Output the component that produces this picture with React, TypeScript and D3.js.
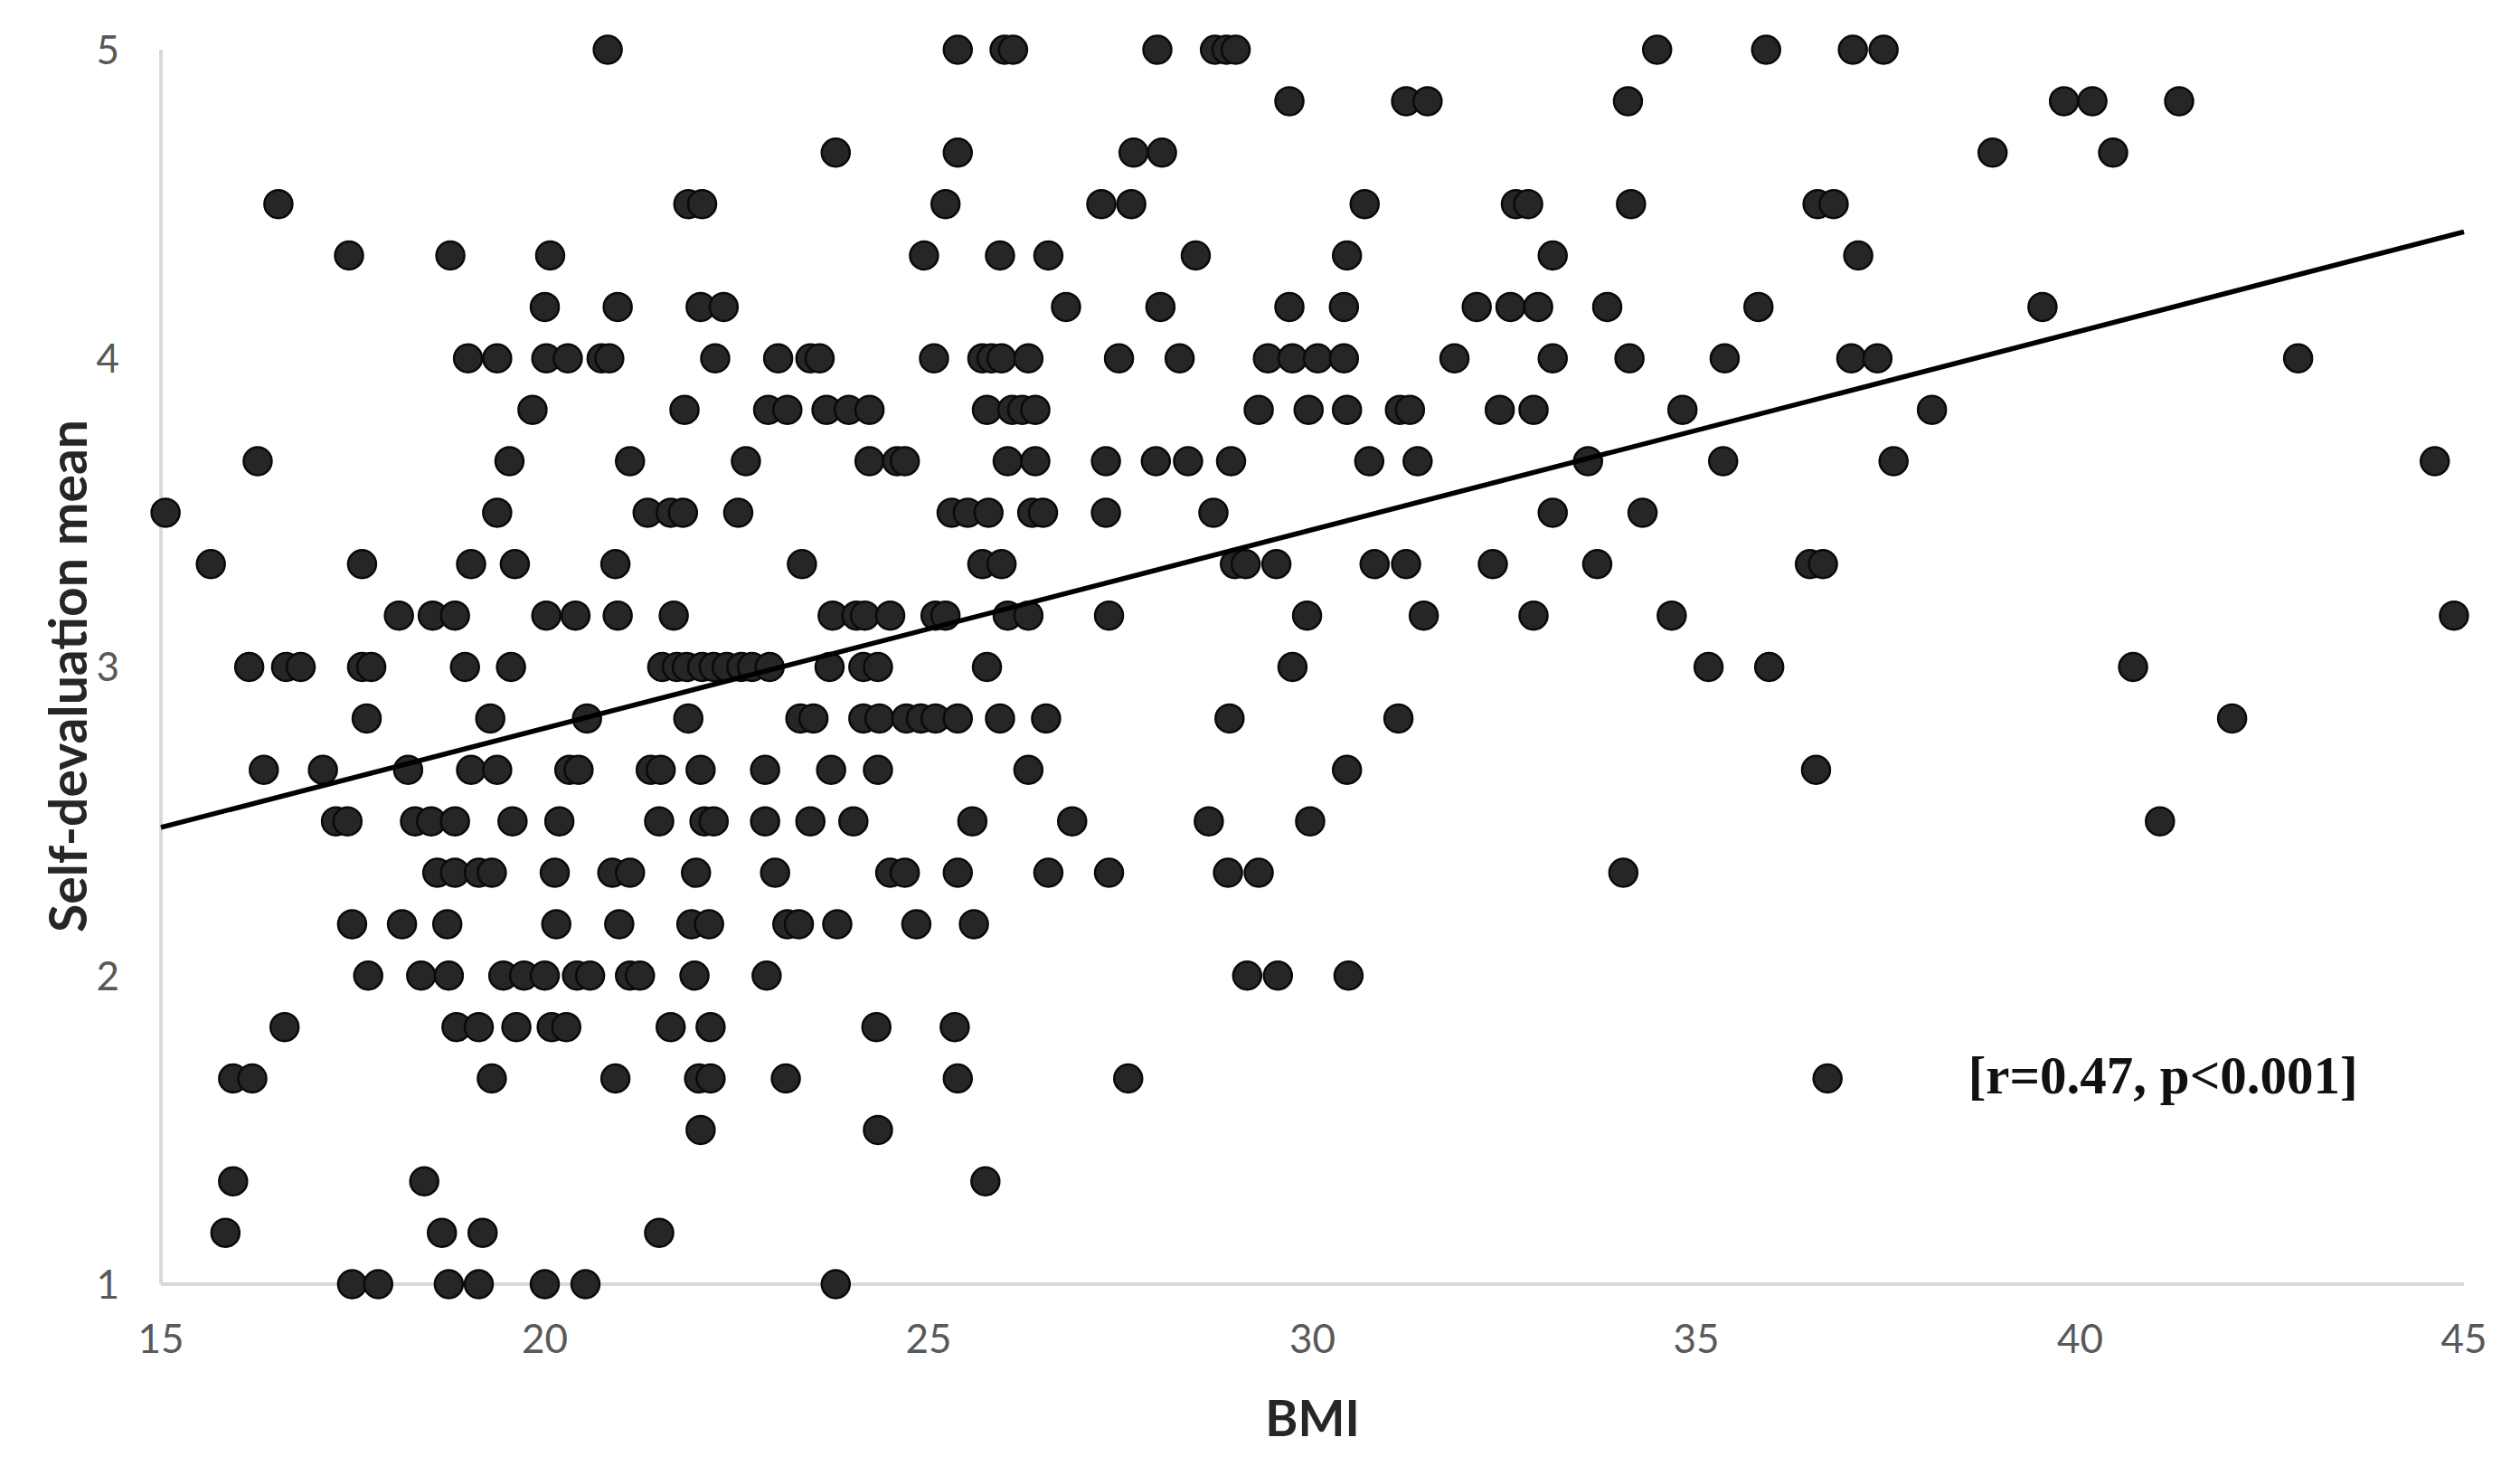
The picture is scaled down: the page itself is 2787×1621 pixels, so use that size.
import React, { useRef, useEffect } from "react";
import * as d3 from "d3";

// BMI of every respondent, grouped by self-devaluation mean (mean of 6 items -> steps of 1/6)
const bmiAt5_00 = [20.82, 25.38, 25.99, 26.1, 27.98, 28.73, 28.88, 29.0, 34.49, 35.91, 37.04, 37.44];
const bmiAt4_83 = [29.7, 31.22, 31.5, 34.11, 39.79, 40.16, 41.29];
const bmiAt4_67 = [23.79, 25.38, 27.67, 28.04, 38.86, 40.43];
const bmiAt4_50 = [16.53, 21.87, 22.05, 25.22, 27.25, 27.64, 30.68, 32.65, 32.81, 34.15, 36.58, 36.79];
const bmiAt4_33 = [17.45, 18.77, 20.07, 24.94, 25.93, 26.56, 28.48, 30.45, 33.13, 37.11];
const bmiAt4_17 = [20.0, 20.95, 22.03, 22.33, 26.79, 28.02, 29.7, 30.41, 32.14, 32.58, 32.94, 33.84, 35.81, 39.51];
const bmiAt4_00 = [19.0, 19.38, 20.02, 20.3, 20.74, 20.84, 22.22, 23.04, 23.46, 23.58, 25.07, 25.7, 25.82, 25.95, 26.3, 27.48, 28.27, 29.42, 29.74, 30.07, 30.41, 31.85, 33.13, 34.13, 35.37, 37.02, 37.36, 42.84];
const bmiAt3_83 = [19.84, 21.82, 22.91, 23.16, 23.67, 23.96, 24.23, 25.76, 26.09, 26.22, 26.39, 29.3, 29.95, 30.45, 31.14, 31.27, 32.44, 32.88, 34.82, 38.07];
const bmiAt3_67 = [16.26, 19.54, 21.11, 22.62, 24.23, 24.59, 24.69, 26.03, 26.39, 27.31, 27.96, 28.38, 28.94, 30.74, 31.37, 33.59, 35.35, 37.57, 44.62];
const bmiAt3_50 = [15.06, 19.38, 21.34, 21.64, 21.8, 22.52, 25.3, 25.51, 25.78, 26.35, 26.49, 27.31, 28.71, 33.13, 34.3];
const bmiAt3_33 = [15.65, 17.62, 19.04, 19.61, 20.92, 23.35, 25.7, 25.95, 28.99, 29.13, 29.53, 30.81, 31.22, 32.35, 33.71, 36.48, 36.65];
const bmiAt3_17 = [18.1, 18.54, 18.83, 20.02, 20.4, 20.95, 21.68, 23.75, 24.06, 24.17, 24.5, 25.09, 25.22, 26.03, 26.3, 27.35, 29.93, 31.45, 32.88, 34.68, 44.87];
const bmiAt3_00 = [16.15, 16.63, 16.82, 17.62, 17.74, 18.96, 19.56, 21.53, 21.72, 21.85, 22.05, 22.2, 22.37, 22.56, 22.7, 22.93, 23.71, 24.15, 24.34, 25.76, 29.74, 35.16, 35.95, 40.69];
const bmiAt2_83 = [17.68, 19.29, 20.55, 21.87, 23.33, 23.5, 24.15, 24.36, 24.71, 24.9, 25.09, 25.38, 25.93, 26.53, 28.92, 31.12, 41.98];
const bmiAt2_67 = [16.34, 17.11, 18.22, 19.04, 19.38, 20.32, 20.44, 21.38, 21.51, 22.03, 22.87, 23.73, 24.34, 26.3, 30.45, 36.56];
const bmiAt2_50 = [17.28, 17.43, 18.31, 18.52, 18.83, 19.58, 20.19, 21.49, 22.08, 22.2, 22.87, 23.46, 24.02, 25.57, 26.87, 28.65, 29.97, 41.04];
const bmiAt2_33 = [18.6, 18.83, 19.14, 19.31, 20.13, 20.88, 21.11, 21.97, 23.0, 24.5, 24.69, 25.38, 26.56, 27.35, 28.9, 29.3, 34.05];
const bmiAt2_17 = [17.49, 18.14, 18.73, 20.15, 20.97, 21.91, 22.14, 23.16, 23.31, 23.81, 24.84, 25.59];
const bmiAt2_00 = [17.7, 18.39, 18.75, 19.46, 19.73, 20.0, 20.42, 20.59, 21.11, 21.24, 21.95, 22.89, 29.15, 29.55, 30.47];
const bmiAt1_83 = [16.61, 18.85, 19.14, 19.63, 20.09, 20.28, 21.64, 22.16, 24.32, 25.34];
const bmiAt1_67 = [15.94, 16.19, 19.31, 20.92, 22.01, 22.16, 23.14, 25.38, 27.6, 36.71];
const bmiAt1_50 = [22.03, 24.34];
const bmiAt1_33 = [15.94, 18.43, 25.74];
const bmiAt1_17 = [15.84, 18.66, 19.19, 21.49];
const bmiAt1_00 = [17.49, 17.83, 18.75, 19.14, 20.0, 20.53, 23.79];

const levels = [5, 29 / 6, 14 / 3, 4.5, 13 / 3, 25 / 6, 4, 23 / 6, 11 / 3, 3.5, 10 / 3, 19 / 6, 3, 17 / 6, 8 / 3, 2.5, 7 / 3, 13 / 6, 2, 11 / 6, 5 / 3, 1.5, 4 / 3, 7 / 6, 1];
const bmiByLevel = [bmiAt5_00, bmiAt4_83, bmiAt4_67, bmiAt4_50, bmiAt4_33, bmiAt4_17, bmiAt4_00, bmiAt3_83, bmiAt3_67, bmiAt3_50, bmiAt3_33, bmiAt3_17, bmiAt3_00, bmiAt2_83, bmiAt2_67, bmiAt2_50, bmiAt2_33, bmiAt2_17, bmiAt2_00, bmiAt1_83, bmiAt1_67, bmiAt1_50, bmiAt1_33, bmiAt1_17, bmiAt1_00];

const xTicks = [15, 20, 25, 30, 35, 40, 45];
const yTicks = [1, 2, 3, 4, 5];

// linear trend line, read at both ends of the x axis
const trendBmi = [15, 45];
const trendMean = [2.48, 4.41];

const annotation = "[r=0.47, p<0.001]";

const App = () => {
  const container = useRef(null);

  const width = 2787;
  const height = 1621;

  useEffect(() => {
    const svg = d3.select(container.current);
    svg.selectAll("*").remove();

    const xScale = d3.scaleLinear().domain([15, 45]).range([178, 2725]);
    const yScale = d3.scaleLinear().domain([1, 5]).range([1420, 55]);

    const points = levels.flatMap((lv, i) => bmiByLevel[i].map(b => ({ bmi: b, mean: lv })));

    // axes (light gray, no tick marks)
    svg
      .append("line")
      .attr("x1", xScale(15))
      .attr("x2", xScale(15))
      .attr("y1", yScale(5))
      .attr("y2", yScale(1))
      .attr("stroke", "#d9d9d9")
      .attr("stroke-width", 4);

    svg
      .append("line")
      .attr("x1", xScale(15))
      .attr("x2", xScale(45))
      .attr("y1", yScale(1))
      .attr("y2", yScale(1))
      .attr("stroke", "#d9d9d9")
      .attr("stroke-width", 4);

    // tick labels
    svg
      .selectAll(".ytick")
      .data(yTicks)
      .enter()
      .append("text")
      .attr("x", xScale(15) - 46)
      .attr("y", d => yScale(d))
      .attr("dy", "0.36em")
      .attr("text-anchor", "end")
      .style("font-family", "Lato, 'Open Sans', sans-serif")
      .style("font-size", "44px")
      .style("fill", "#595959")
      .text(d => d);

    svg
      .selectAll(".xtick")
      .data(xTicks)
      .enter()
      .append("text")
      .attr("x", d => xScale(d))
      .attr("y", yScale(1) + 60)
      .attr("dy", "0.36em")
      .attr("text-anchor", "middle")
      .style("font-family", "Lato, 'Open Sans', sans-serif")
      .style("font-size", "44px")
      .style("fill", "#595959")
      .text(d => d);

    // axis titles
    svg
      .append("text")
      .attr("transform", `translate(75, ${(yScale(1) + yScale(5)) / 2 + 10}) rotate(-90)`)
      .attr("dy", "0.36em")
      .attr("text-anchor", "middle")
      .style("font-family", "Lato, 'Open Sans', sans-serif")
      .style("font-weight", "bold")
      .style("font-size", "57px")
      .style("fill", "#262626")
      .text("Self-devaluation mean");

    svg
      .append("text")
      .attr("x", (xScale(15) + xScale(45)) / 2)
      .attr("y", 1568)
      .attr("dy", "0.36em")
      .attr("text-anchor", "middle")
      .style("font-family", "Lato, 'Open Sans', sans-serif")
      .style("font-weight", "bold")
      .style("font-size", "55px")
      .style("fill", "#262626")
      .text("BMI");

    // dots
    svg
      .selectAll(".dot")
      .data(points)
      .enter()
      .append("circle")
      .attr("cx", d => xScale(d.bmi))
      .attr("cy", d => yScale(d.mean))
      .attr("r", 15.5)
      .attr("fill", "#262626")
      .attr("stroke", "#0a0a0a")
      .attr("stroke-width", 2.5);

    // trend line
    svg
      .append("line")
      .attr("x1", xScale(trendBmi[0]))
      .attr("y1", yScale(trendMean[0]))
      .attr("x2", xScale(trendBmi[1]))
      .attr("y2", yScale(trendMean[1]))
      .attr("stroke", "#000")
      .attr("stroke-width", 5.5);

    // correlation note
    svg
      .append("text")
      .attr("x", xScale(41.08))
      .attr("y", yScale(1.68))
      .attr("dy", "0.36em")
      .attr("text-anchor", "middle")
      .style("font-family", "'Liberation Serif', 'Times New Roman', serif")
      .style("font-weight", "bold")
      .style("font-size", "59px")
      .style("fill", "#111")
      .text(annotation);
  }, []);

  return (
    <div style={{ position: "absolute", top: 0, left: 0, width: width, height: height, background: "#fff" }}>
      <svg ref={container} width={width} height={height} style={{ display: "block" }} />
    </div>
  );
};

export default App;
